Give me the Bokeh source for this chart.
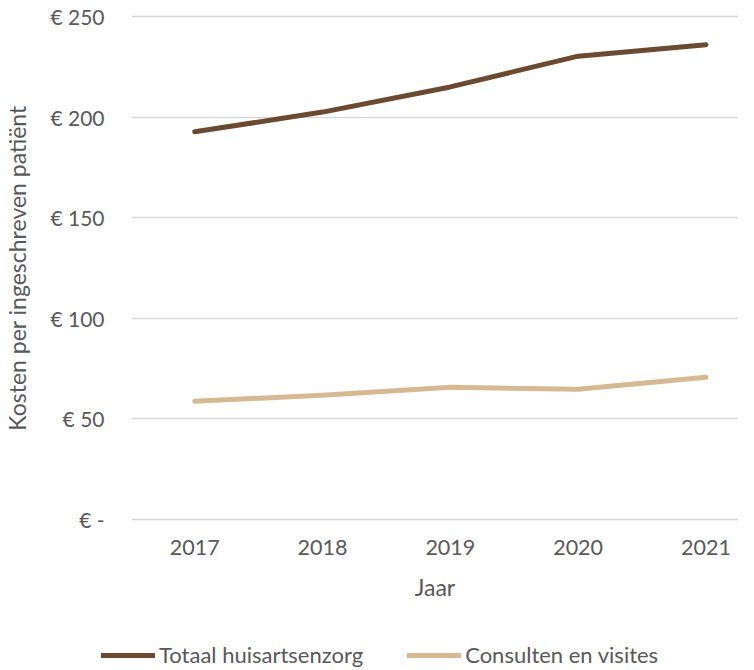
from bokeh.plotting import figure
from bokeh.models import Range1d, FixedTicker, Legend, LegendItem
from bokeh.layouts import column, row
from bokeh.embed import file_html
from bokeh.resources import INLINE

years = [2017, 2018, 2019, 2020, 2021]
totaal = [192.7, 202.5, 215.0, 230.3, 236.0]
consulten = [58.8, 61.8, 65.7, 64.7, 70.7]
y_ticks = [0, 50, 100, 150, 200, 250]
y_labels = ["€ -", "€ 50", "€ 100", "€ 150", "€ 200", "€ 250"]
series_names = ["Totaal huisartsenzorg", "Consulten en visites"]
series_colors = ["#6B4A30", "#D6B891"]

FONT = "Lato"
TXT = "#595959"

p = figure(width=738, height=622, output_backend="svg", toolbar_location=None,
           x_range=Range1d(2016.505, 2021.255), y_range=Range1d(-1.5, 251.5),
           min_border_left=124, min_border_right=0, min_border_top=13, min_border_bottom=100)
p.outline_line_color = None
p.background_fill_color = "white"
p.border_fill_color = "white"

p.xgrid.grid_line_color = None
p.ygrid.grid_line_color = "#D9D9D9"
p.ygrid.grid_line_width = 1.5

p.xaxis.ticker = FixedTicker(ticks=years)
p.xaxis.major_label_overrides = {y: str(y) for y in years}
p.yaxis.ticker = FixedTicker(ticks=y_ticks)
p.yaxis.major_label_overrides = dict(zip(y_ticks, y_labels))

for ax in (p.xaxis[0], p.yaxis[0]):
    ax.axis_line_color = None
    ax.major_tick_line_color = None
    ax.minor_tick_line_color = None
    ax.major_tick_out = 0
    ax.major_tick_in = 0
    ax.major_label_text_font = FONT
    ax.major_label_text_color = TXT
    ax.axis_label_text_font = FONT
    ax.axis_label_text_color = TXT
    ax.axis_label_text_font_style = "normal"

p.xaxis.axis_label = "Jaar"
p.xaxis.major_label_text_font_size = "21.5px"
p.xaxis.axis_label_text_font_size = "23px"
p.xaxis.major_label_standoff = 17
p.xaxis.axis_label_standoff = 15
p.yaxis.axis_label = "Kosten per ingeschreven patiënt"
p.yaxis.major_label_text_font_size = "21px"
p.yaxis.axis_label_text_font_size = "23px"
p.yaxis.major_label_standoff = 27
p.yaxis.axis_label_standoff = 16

r1 = p.line(years, totaal, line_color=series_colors[0], line_width=5, line_cap="round", line_join="round")
r2 = p.line(years, consulten, line_color=series_colors[1], line_width=5, line_cap="round", line_join="round")

# legend strip under the chart (the series are drawn again there, outside its visible range)
q = figure(width=738, height=46, output_backend="svg", toolbar_location=None,
           x_axis_location=None, y_axis_location=None,
           x_range=Range1d(2016.505, 2021.255), y_range=Range1d(1000, 1001),
           min_border_left=0, min_border_right=0, min_border_top=0, min_border_bottom=0)
q.outline_line_color = None
q.grid.grid_line_color = None
q.border_fill_color = "white"
l1 = q.line(years, totaal, line_color=series_colors[0], line_width=5, line_cap="round")
l2 = q.line(years, consulten, line_color=series_colors[1], line_width=5, line_cap="round")

legend = Legend(items=[LegendItem(label=series_names[0], renderers=[l1]),
                       LegendItem(label=series_names[1], renderers=[l2])],
                location=(101, 0), orientation="horizontal",
                border_line_color=None, background_fill_alpha=0,
                padding=0, margin=0, spacing=44,
                glyph_width=54, glyph_height=22, label_standoff=4, label_height=22,
                label_text_font=FONT, label_text_color=TXT, label_text_font_size="22px")
q.add_layout(legend)

layout = column(p, row(q, spacing=0), spacing=0)
open("out.html", "w").write(file_html(layout, INLINE))
